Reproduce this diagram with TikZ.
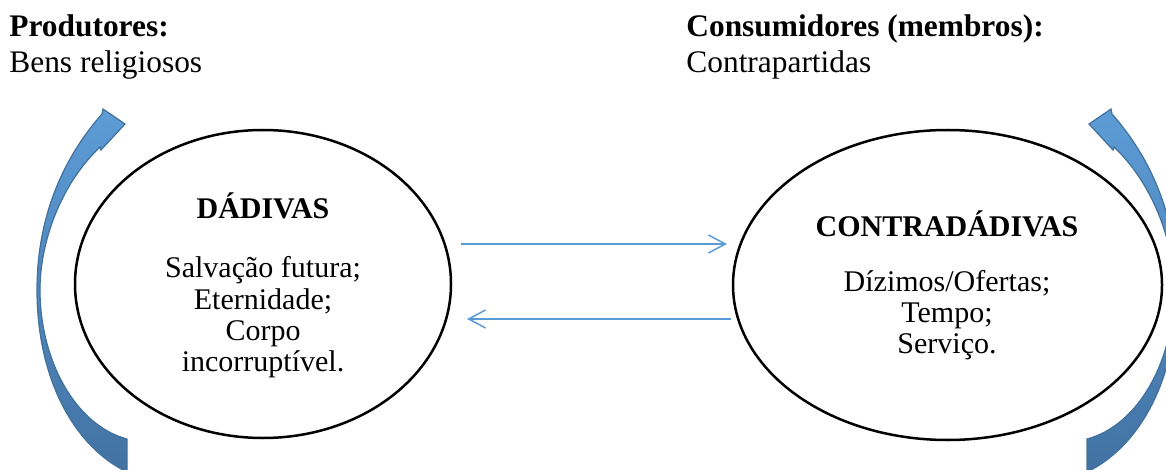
\documentclass[tikz,border=0pt]{standalone}
\usepackage{fontspec}
\setmainfont{Liberation Serif}
\usetikzlibrary{shapes.geometric,arrows.meta}

\definecolor{flowblue}{RGB}{91,155,213}
\definecolor{bandtop}{RGB}{93,156,214}
\definecolor{bandbot}{RGB}{66,114,163}
\definecolor{bandedge}{RGB}{65,113,156}

\begin{document}
\begin{tikzpicture}[x=0.5pt,y={(0pt,-0.5pt)},
  txt/.style={inner sep=0pt, anchor=base, font=\fontsize{15pt}{18pt}\selectfont},
  lefttxt/.style={inner sep=0pt, anchor=base west, font=\fontsize{15.7pt}{18pt}\selectfont},
  bubble/.style={ellipse, draw=black, line width=1.25pt, inner sep=0pt},
  flow/.style={draw=flowblue, line width=0.75pt, -{Straight Barb[length=8.5pt,width=9pt,line width=0.75pt]}},
  band/.style={draw=bandedge, line width=0.6pt, top color=bandtop, bottom color=bandbot, line join=miter}
]
\useasboundingbox (0,0) rectangle (1166,470);

% headings at the top
\node[lefttxt, font=\fontsize{15.7pt}{18pt}\selectfont\bfseries] (prodh) at (9,37) {Produtores:};
\node[lefttxt] (prodt) at (9,73) {Bens religiosos};
\node[lefttxt, font=\fontsize{15.7pt}{18pt}\selectfont\bfseries] (consh) at (686,37) {Consumidores (membros):};
\node[lefttxt] (const) at (686,73) {Contrapartidas};

% the two exchange bubbles
\node[bubble, minimum width=188pt, minimum height=154pt] (L) at (263,284) {};
\node[bubble, minimum width=214.5pt, minimum height=155pt] (R) at (947.5,285) {};

% text inside the left bubble
\node[txt, font=\fontsize{15pt}{18pt}\selectfont\bfseries] (lh) at (263,219) {DÁDIVAS};
\node[txt] (l1) at (263,278) {Salvação futura;};
\node[txt] (l2) at (263,309) {Eternidade;};
\node[txt] (l3) at (263,340) {Corpo};
\node[txt] (l4) at (263,371) {incorruptível.};

% text inside the right bubble
\node[txt, font=\fontsize{15pt}{18pt}\selectfont\bfseries] (rh) at (947,236) {CONTRADÁDIVAS};
\node[txt] (r1) at (947,291) {Dízimos/Ofertas;};
\node[txt] (r2) at (947,322) {Tempo;};
\node[txt] (r3) at (947,353) {Serviço.};

% exchange arrows between the bubbles
\coordinate (go1) at (461,244);
\coordinate (go2) at (727,244);
\coordinate (back1) at (731,319);
\coordinate (back2) at (467,319);
\draw[flow] (go1) -- (go2);
\draw[flow] (back1) -- (back2);

% curved block arrow on the left
\path[band] (127,472) .. controls (75,447) and (37,380) .. (37,290)
  .. controls (37,205) and (72,148) .. (102,114)
  -- (103,109) -- (125,124) -- (101,150) -- (100,147)
  .. controls (62,183) and (40,240) .. (40,290)
  .. controls (40,360) and (75,425) .. (127,439) -- cycle;

% the same arrow mirrored on the right
\begin{scope}[shift={(1214,0)}, xscale=-1]
\path[band] (127,472) .. controls (75,447) and (37,380) .. (37,290)
  .. controls (37,205) and (72,148) .. (102,114)
  -- (103,109) -- (125,124) -- (101,150) -- (100,147)
  .. controls (62,183) and (40,240) .. (40,290)
  .. controls (40,360) and (75,425) .. (127,439) -- cycle;
\end{scope}
\end{tikzpicture}
\end{document}
